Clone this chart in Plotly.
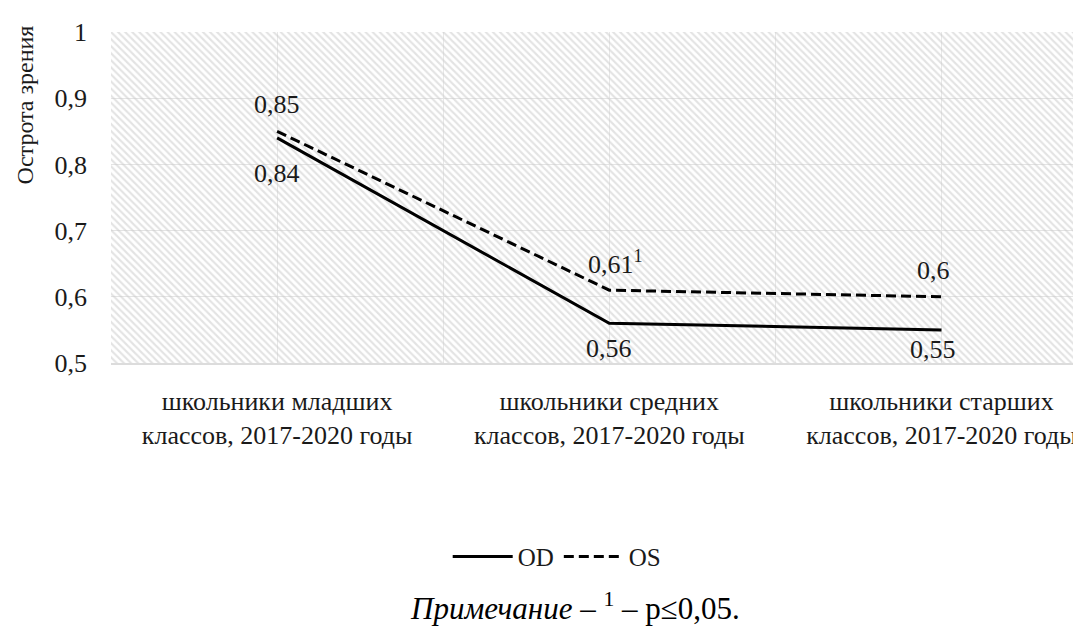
import plotly.graph_objects as go

categories = ["школьники младших<br>классов, 2017-2020 годы",
              "школьники средних<br>классов, 2017-2020 годы",
              "школьники старших<br>классов, 2017-2020 годы"]
od_values = [0.84, 0.56, 0.55]
os_values = [0.85, 0.61, 0.60]
od_labels = ["0,84", "0,56", "0,55"]
os_labels = ["0,85", "0,61<sup>1</sup>", "0,6"]
y_ticks = [0.5, 0.6, 0.7, 0.8, 0.9, 1.0]
y_ticktext = ["0,5", "0,6", "0,7", "0,8", "0,9", "1"]

# label placement (styling only)
os_dy = [27, 28, 26]
os_dx = [0, 6, -8]
od_dy = [-36, -25, -20]
od_dx = [0, 0, -8]

xs = list(range(len(categories)))
FONT = "Liberation Serif"
TXT = "#1a1a1a"

fig = go.Figure()

# hatched plot background
fig.add_trace(go.Bar(
    x=xs, y=[0.5] * len(xs), base=[0.5] * len(xs), width=1,
    marker=dict(color="rgba(0,0,0,0)", line=dict(width=0),
                pattern=dict(shape="\\", fgcolor="#c8c8c8",
                             bgcolor="rgba(0,0,0,0)", fillmode="overlay",
                             size=5, solidity=0.42)),
    showlegend=False, hoverinfo="skip"))

fig.add_trace(go.Scatter(
    x=xs, y=od_values, mode="lines", name="OD",
    line=dict(color="black", width=3)))
fig.add_trace(go.Scatter(
    x=xs, y=os_values, mode="lines", name="OS",
    line=dict(color="black", width=3, dash="10px,5px")))

for x, v, t, dy, dx in zip(xs, os_values, os_labels, os_dy, os_dx):
    fig.add_annotation(x=x, y=v, text=t, showarrow=False, yshift=dy,
                       xshift=dx, font=dict(family=FONT, size=26, color=TXT))
for x, v, t, dy, dx in zip(xs, od_values, od_labels, od_dy, od_dx):
    fig.add_annotation(x=x, y=v, text=t, showarrow=False, yshift=dy,
                       xshift=dx, font=dict(family=FONT, size=26, color=TXT))

fig.add_annotation(xref="paper", yref="paper", x=-0.0887, y=0.535,
                   text="Острота зрения", textangle=-90, showarrow=False,
                   xanchor="center", yanchor="bottom",
                   font=dict(family=FONT, size=24, color=TXT))

fig.add_annotation(xref="paper", yref="paper", x=0.478, y=-0.735,
                   text="<i>Примечание</i> – <sup>1</sup> – p≤0,05.",
                   showarrow=False, xanchor="center", yanchor="middle",
                   font=dict(family=FONT, size=31, color="black"))

fig.update_layout(
    width=1073, height=623,
    margin=dict(l=103, r=0, t=24, b=268),
    paper_bgcolor="white", plot_bgcolor="white",
    barmode="overlay",
    legend=dict(orientation="h", x=0.46, y=-0.585, xanchor="center",
                yanchor="middle", itemwidth=60, entrywidthmode="pixels",
                font=dict(family=FONT, size=25, color=TXT)),
    xaxis=dict(range=[-0.5, 2.42], tickvals=xs, ticktext=categories,
               showgrid=False, zeroline=False, showline=True,
               linecolor="#dcdcdc", linewidth=2, ticks="",
               ticklabelstandoff=14,
               tickfont=dict(family=FONT, size=26, color=TXT),
               minor=dict(dtick=0.5, tick0=-0.5, showgrid=True,
                          gridcolor="#e8e8e8", gridwidth=1)),
    yaxis=dict(range=[0.5, 1.0], tickvals=y_ticks, ticktext=y_ticktext,
               showgrid=True, gridcolor="#e4e4e4", gridwidth=1,
               zeroline=False, showline=False, ticks="",
               ticklabelstandoff=23,
               tickfont=dict(family=FONT, size=26, color=TXT)),
)

fig.write_html("out.html")
